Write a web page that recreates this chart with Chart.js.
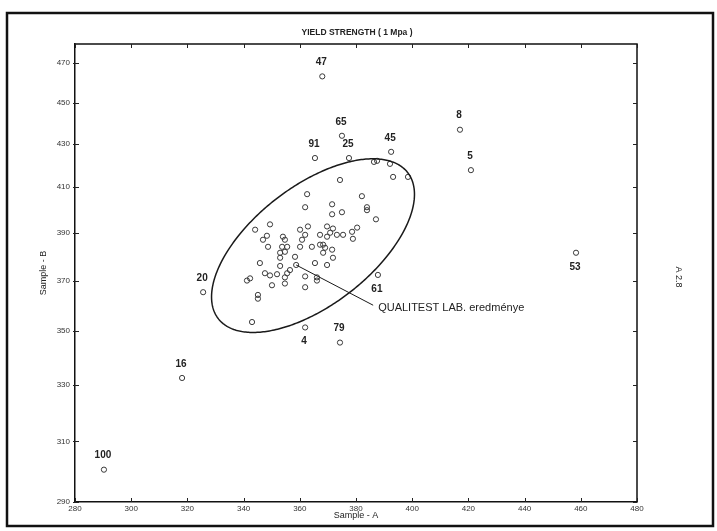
<!DOCTYPE html>
<html>
<head>
<meta charset="utf-8">
<script src="https://cdn.jsdelivr.net/npm/chart.js@4.4.0/dist/chart.umd.min.js"></script>
<style>
  html, body { margin: 0; padding: 0; background: #fff; }
</style>
</head>
<body>
<canvas id="yieldChart" width="717" height="531"></canvas>
<script>
// tick labels
const xTicks = [280, 300, 320, 340, 360, 380, 400, 420, 440, 460, 480];
const yTicks = [290, 310, 330, 350, 370, 390, 410, 430, 450, 470];

// unnumbered samples (Sample - A, Sample - B)
const sampleA = [386.4, 387.5, 392.1, 393.2, 398.5, 374.3, 362.6, 382.1, 361.9, 371.5,
                 371.5, 375.0, 383.9, 383.9, 387.1, 349.4, 344.1, 360.1, 362.9, 369.7,
                 371.8, 378.6, 380.4, 348.3, 346.9, 354.0, 354.7, 361.9, 360.8, 367.2,
                 369.7, 370.8, 373.2, 375.4, 378.9, 348.7, 353.7, 355.5, 360.1, 364.3,
                 367.2, 368.3, 369.0, 371.5, 353.0, 354.7, 368.3, 353.0, 358.3, 371.8,
                 345.8, 353.0, 358.7, 365.4, 369.7, 347.6, 349.4, 351.9, 355.5, 356.5,
                 354.7, 341.2, 342.3, 350.1, 354.7, 361.9, 366.1, 366.1, 361.9, 345.1,
                 345.1, 343.0];
const sampleB = [421.6, 422.1, 420.7, 414.7, 414.7, 413.3, 406.9, 406.0, 401.1, 402.4,
                 398.0, 398.9, 401.1, 399.8, 395.8, 393.6, 391.3, 391.3, 392.7, 392.7,
                 391.8, 390.4, 392.2, 388.7, 387.0, 388.3, 387.0, 389.1, 387.0, 389.1,
                 388.3, 390.0, 389.1, 389.1, 387.4, 384.0, 384.0, 384.0, 384.0, 384.0,
                 384.9, 384.9, 383.6, 382.8, 381.5, 381.9, 381.5, 379.4, 379.8, 379.4,
                 377.2, 376.0, 376.4, 377.2, 376.4, 373.0, 372.1, 372.6, 373.0, 374.3,
                 371.3, 370.0, 370.9, 368.1, 368.8, 371.7, 371.3, 370.0, 367.3, 364.2,
                 362.7, 353.5];

// numbered samples
const markedIds = ['47', '65', '91', '25', '45', '8', '5', '53', '16', '100', '20', '4', '79', '61'];
const markedA = [368.0, 375.0, 365.4, 377.5, 392.5, 417.0, 420.9, 458.3, 318.1, 290.3, 325.6, 361.9, 374.3, 387.8];
const markedB = [463.2, 433.9, 423.4, 423.4, 426.3, 436.8, 417.8, 381.5, 332.4, 300.5, 365.3, 351.4, 345.6, 372.3];
const labelsBelow = ['53', '4', '61'];

// ellipse round the main group: centre, end of long half-axis, end of short half-axis
const ellipseCenter = [364.7, 384.5];
const ellipseMajorEnd = [398.5, 416.5];
const ellipseMinorEnd = [377.4, 364.9];

// pointer to the lab result
const pointerFrom = [358.7, 376.4];
const pointerTo = [386.1, 360.1];
const pointerText = 'QUALITEST LAB. eredménye';

const FONT = "'Liberation Sans Narrow', 'Liberation Sans', Arial, sans-serif";
const INK = '#222';

const decorPlugin = {
    id: 'decor',
    beforeDraw(chart) {
        const ctx = chart.ctx;
        ctx.save();
        ctx.fillStyle = '#fff';
        ctx.fillRect(0, 0, chart.width, chart.height);
        // outer frame
        ctx.strokeStyle = '#111';
        ctx.lineWidth = 2.5;
        ctx.strokeRect(7, 13, 706, 513);
        ctx.restore();
    },
    afterDatasetsDraw(chart) {
        const ctx = chart.ctx;
        const xs = chart.scales.x;
        const ys = chart.scales.y;
        const area = chart.chartArea;
        const px = (p) => ({ x: xs.getPixelForValue(p[0]), y: ys.getPixelForValue(p[1]) });

        ctx.save();

        // top and right edges of the plot box
        ctx.strokeStyle = '#111';
        ctx.lineWidth = 1.5;
        ctx.beginPath();
        ctx.moveTo(area.left, area.top);
        ctx.lineTo(area.right, area.top);
        ctx.lineTo(area.right, area.bottom);
        ctx.stroke();

        // inward tick marks on all four sides
        ctx.strokeStyle = INK;
        ctx.lineWidth = 1;
        ctx.beginPath();
        xTicks.forEach(v => {
            const x = Math.round(xs.getPixelForValue(v)) + 0.5;
            ctx.moveTo(x, area.bottom); ctx.lineTo(x, area.bottom - 4);
            ctx.moveTo(x, area.top); ctx.lineTo(x, area.top + 4);
        });
        yTicks.forEach(v => {
            const y = Math.round(ys.getPixelForValue(v)) + 0.5;
            ctx.moveTo(area.left - 2, y); ctx.lineTo(area.left + 4, y);
            ctx.moveTo(area.right, y); ctx.lineTo(area.right - 4, y);
        });
        ctx.stroke();

        // ellipse
        const c = px(ellipseCenter);
        const a = px(ellipseMajorEnd);
        const b = px(ellipseMinorEnd);
        const ax = a.x - c.x, ay = a.y - c.y, bx = b.x - c.x, by = b.y - c.y;
        ctx.strokeStyle = '#1a1a1a';
        ctx.lineWidth = 1.5;
        ctx.beginPath();
        for (let i = 0; i <= 360; i++) {
            const t = i * Math.PI / 180;
            const x = c.x + ax * Math.cos(t) + bx * Math.sin(t);
            const y = c.y + ay * Math.cos(t) + by * Math.sin(t);
            if (i === 0) ctx.moveTo(x, y); else ctx.lineTo(x, y);
        }
        ctx.closePath();
        ctx.stroke();

        // pointer line and text
        const p0 = px(pointerFrom);
        const p1 = px(pointerTo);
        ctx.lineWidth = 1;
        ctx.beginPath();
        ctx.moveTo(p0.x, p0.y);
        ctx.lineTo(p1.x, p1.y);
        ctx.stroke();
        ctx.fillStyle = INK;
        ctx.font = "11px 'Liberation Sans', Arial, sans-serif";
        ctx.textAlign = 'left';
        ctx.textBaseline = 'middle';
        ctx.fillText(pointerText, p1.x + 5, p1.y + 3);

        // sample numbers
        const meta = chart.getDatasetMeta(1);
        ctx.font = 'bold 10px ' + FONT;
        ctx.textAlign = 'center';
        meta.data.forEach((el, i) => {
            const id = markedIds[i];
            const dy = labelsBelow.includes(id) ? 14 : -14;
            ctx.fillText(id, el.x - 1, el.y + dy);
        });

        // title
        ctx.font = 'bold 8.5px ' + FONT;
        ctx.fillText('YIELD STRENGTH ( 1 Mpa )', (area.left + area.right) / 2 + 1, area.top - 11);

        // side note
        ctx.translate(678, 277);
        ctx.rotate(Math.PI / 2);
        ctx.font = '9px ' + FONT;
        ctx.fillText('A 2.8', 0, 0);

        ctx.restore();
    }
};

const ctx = document.getElementById('yieldChart').getContext('2d');

new Chart(ctx, {
    type: 'scatter',
    data: {
        datasets: [
            {
                label: 'samples',
                data: sampleA.map((a, i) => ({ x: a, y: sampleB[i] }))
            },
            {
                label: 'numbered',
                data: markedA.map((a, i) => ({ x: a, y: markedB[i] }))
            }
        ]
    },
    options: {
        responsive: false,
        animation: false,
        devicePixelRatio: 1,
        layout: { padding: { top: 44, right: 80, left: 0, bottom: 0 } },
        elements: {
            point: {
                radius: 2.6,
                borderWidth: 1,
                borderColor: '#3a3a3a',
                backgroundColor: 'rgba(0,0,0,0)'
            }
        },
        plugins: {
            legend: { display: false },
            tooltip: { enabled: false }
        },
        scales: {
            x: {
                type: 'linear',
                min: 280,
                max: 480,
                afterBuildTicks: (s) => { s.ticks = xTicks.map(v => ({ value: v })); },
                afterFit: (s) => { s.height = 29; },
                grid: { display: false, drawTicks: false },
                border: { display: true, color: '#111', width: 1.5 },
                ticks: {
                    color: '#333',
                    padding: 2,
                    maxRotation: 0,
                    autoSkip: false,
                    font: { family: FONT, size: 8 },
                    callback: (v) => String(v)
                },
                title: {
                    display: true,
                    text: 'Sample - A',
                    color: INK,
                    font: { family: FONT, size: 9 },
                    padding: { top: 0, bottom: 10 }
                }
            },
            y: {
                type: 'logarithmic',
                min: 290,
                max: 480,
                afterBuildTicks: (s) => { s.ticks = yTicks.map(v => ({ value: v })); },
                afterFit: (s) => { s.width = 75; },
                grid: { display: false, drawTicks: false },
                border: { display: true, color: '#111', width: 1.5 },
                ticks: {
                    color: '#333',
                    padding: 5,
                    autoSkip: false,
                    font: { family: FONT, size: 8 },
                    callback: (v) => String(v)
                },
                title: {
                    display: true,
                    text: 'Sample - B',
                    color: INK,
                    font: { family: FONT, size: 9 },
                    padding: { top: 38, bottom: 0 }
                }
            }
        }
    },
    plugins: [decorPlugin]
});
</script>
</body>
</html>
